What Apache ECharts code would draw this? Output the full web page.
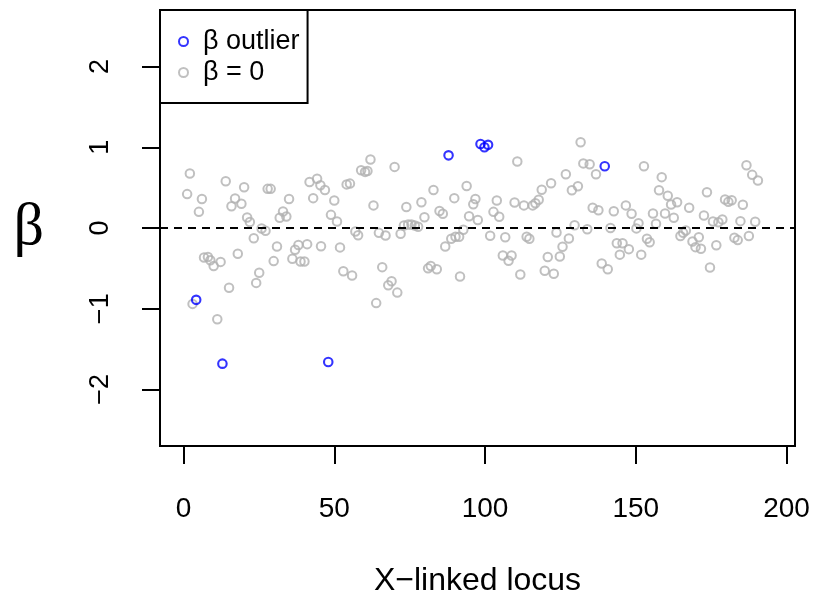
<!DOCTYPE html>
<html>
<head>
<meta charset="utf-8">
<script src="https://cdn.jsdelivr.net/npm/echarts@6/dist/echarts.min.js"></script>
<style>
  html, body { margin: 0; padding: 0; background: #fff; }
  #chart { width: 816px; height: 599px; }
</style>
</head>
<body>
<div id="chart"></div>
<script>
// Loci with no effect (beta = 0): position along the X chromosome and estimated beta
const nullLoci = [
  1.2, 2.1, 3.0, 5.1, 6.1, 6.8, 8.1, 8.9, 10.0, 11.2, 12.3, 14.0, 15.1, 15.9, 17.1, 18.0, 19.2, 20.1, 21.1, 22.0,
  23.3, 24.1, 25.1, 25.9, 27.2, 27.9, 28.9, 29.9, 31.0, 31.9, 33.0, 34.1, 35.0, 36.1, 37.0, 38.1, 38.8, 40.1, 41.0, 41.8,
  43.0, 44.3, 45.4, 45.6, 46.9, 48.9, 50.0, 50.9, 51.9, 53.0, 54.1, 55.2, 55.9, 57.0, 57.9, 58.9, 60.2, 61.0, 62.0, 63.0,
  63.9, 64.8, 65.9, 67.0, 67.9, 69.0, 70.0, 70.9, 72.0, 73.1, 73.9, 74.5, 75.6, 76.7, 77.8, 78.9, 79.9, 81.1, 82.0, 82.9,
  84.0, 84.9, 86.0, 86.8, 88.8, 89.8, 90.2, 91.4, 91.7, 92.8, 93.9, 94.7, 96.1, 96.8, 97.6, 101.7, 102.8, 103.9, 104.7, 105.9,
  106.7, 107.8, 108.8, 109.8, 110.7, 111.7, 112.9, 113.8, 114.7, 115.8, 116.7, 117.8, 118.8, 119.8, 120.8, 121.9, 122.8, 123.7, 124.8, 125.7,
  126.8, 127.8, 128.8, 129.7, 130.8, 131.7, 132.6, 133.9, 134.7, 135.7, 136.8, 137.6, 138.7, 140.7, 141.6, 142.7, 143.7, 144.7, 145.6, 146.7,
  147.7, 148.6, 150.2, 150.9, 151.8, 152.7, 153.7, 154.6, 155.7, 156.7, 157.7, 158.6, 159.7, 160.6, 161.7, 162.6, 163.7, 164.8, 165.7, 166.6,
  167.7, 168.8, 169.8, 170.9, 171.6, 172.6, 173.6, 174.6, 175.6, 176.7, 177.4, 178.7, 179.6, 180.7, 181.8, 182.7, 183.8, 184.7, 185.5, 186.7,
  187.5, 188.6, 189.6, 190.5
];
const nullBeta = [
  0.42, 0.675, -0.94, 0.20, 0.36, -0.365, -0.36, -0.40, -0.47, -1.13, -0.42, 0.58, -0.74, 0.27, 0.365, -0.32, 0.30, 0.505, 0.13, 0.075,
  -0.126, -0.68, -0.555, -0.006, -0.035, 0.485, 0.485, -0.41, -0.23, 0.126, 0.204, 0.142, 0.36, -0.38, -0.27, -0.21, -0.415, -0.415, -0.20, 0.57,
  0.37, 0.61, 0.53, -0.225, 0.47, 0.163, 0.34, 0.08, -0.24, -0.535, 0.54, 0.55, -0.588, -0.043, -0.089, 0.715, 0.695, 0.707, 0.848, 0.28,
  -0.93, -0.06, -0.485, -0.093, -0.71, -0.66, 0.757, -0.80, -0.072, 0.03, 0.26, 0.043, 0.043, 0.03, 0.015, 0.32, 0.134, -0.50, -0.47, 0.47,
  -0.51, 0.21, 0.176, -0.23, -0.134, 0.37, -0.109, -0.109, -0.60, -0.022, 0.52, 0.146, 0.295, 0.36, 0.10, -0.097, 0.20, 0.34, 0.139, -0.34,
  -0.114, -0.406, -0.34, 0.316, 0.823, -0.575, 0.28, -0.109, -0.134, 0.28, 0.307, 0.35, 0.473, -0.53, -0.36, 0.555, -0.567, -0.056, -0.353, -0.233,
  0.666, -0.13, 0.468, 0.035, 0.517, 1.062, 0.80, -0.015, 0.79, 0.25, 0.666, 0.22, -0.44, -0.51, 0.0, 0.208, -0.188, -0.33, -0.188, 0.28,
  -0.262, 0.176, -0.005, 0.06, -0.33, 0.765, -0.134, -0.176, 0.18, 0.052, 0.468, 0.63, 0.18, 0.40, 0.29, 0.126, 0.32, -0.10, -0.06, -0.03,
  0.25, -0.167, -0.237, -0.114, -0.257, 0.155, 0.443, -0.49, 0.08, -0.213, 0.072, 0.105, 0.353, 0.324, 0.344, -0.12, -0.15, 0.085, 0.287, 0.777,
  -0.10, 0.658, 0.077, 0.588
];

// Outlier loci
const outlierLoci = [4.2, 12.9, 48.0, 87.9, 98.5, 99.8, 101.0, 139.7];
const outlierBeta = [-0.89, -1.68, -1.66, 0.90, 1.04, 1.00, 1.03, 0.765];

// Axis ticks
const xTicks = [0, 50, 100, 150, 200];
const yTicks = [-2, -1, 0, 1, 2];

const seriesNames = ['\u03B2 outlier', '\u03B2 = 0'];
const xTitle = 'X\u2212linked locus';
const yTitle = '\u03B2';

const GREY = '#b0b0b0';
const BLUE = '#0000ff';
const FONT = 'Liberation Sans, Arial, Helvetica, sans-serif';

const zip = (xs, ys) => xs.map((x, i) => [x, ys[i]]);
const minusFmt = v => (v < 0 ? '\u2212' + Math.abs(v) : String(v));

const chart = echarts.init(document.getElementById('chart'), null, { renderer: 'canvas' });

chart.setOption({
  animation: false,
  backgroundColor: '#ffffff',
  textStyle: { fontFamily: FONT },
  grid: {
    left: 160, top: 10, right: 21, bottom: 153,
    show: true, borderColor: '#000', borderWidth: 2,
    backgroundColor: 'transparent',
    containLabel: false,
    outerBoundsMode: 'none'
  },
  legend: {
    orient: 'vertical',
    left: 160, top: 10,
    padding: [16, 8, 15, 18],
    itemGap: 0,
    itemWidth: 29, itemHeight: 9,
    borderColor: '#000', borderWidth: 2, borderRadius: 0,
    backgroundColor: '#fff',
    textStyle: { fontSize: 27, fontFamily: FONT, color: '#000', lineHeight: 31 },
    data: [
      { name: seriesNames[0], icon: 'circle',
        itemStyle: { color: 'rgba(0,0,0,0)', borderColor: BLUE, borderWidth: 2 } },
      { name: seriesNames[1], icon: 'circle',
        itemStyle: { color: 'rgba(0,0,0,0)', borderColor: GREY, borderWidth: 2 } }
    ]
  },
  xAxis: {
    type: 'value',
    min: -7.8, max: 202.8,
    name: xTitle,
    nameLocation: 'middle',
    nameGap: 119,
    nameTextStyle: { fontSize: 32, color: '#000', fontFamily: FONT },
    axisLine: { show: false, onZero: false },
    splitLine: { show: false },
    axisTick: {
      show: true, inside: false, length: 18,
      customValues: xTicks,
      lineStyle: { color: '#000', width: 2 }
    },
    axisLabel: {
      show: true, margin: 49,
      customValues: xTicks,
      fontSize: 28, color: '#000', fontFamily: FONT,
      formatter: minusFmt
    }
  },
  yAxis: {
    type: 'value',
    min: -2.7, max: 2.7,
    name: yTitle,
    nameLocation: 'middle',
    nameRotate: 0,
    nameGap: 116,
    nameTextStyle: { fontSize: 60, color: '#000', fontFamily: 'Liberation Serif, DejaVu Serif, serif',
                     padding: [8, 0, 0, 0] },
    axisLine: { show: false, onZero: false },
    splitLine: { show: false },
    axisTick: {
      show: true, inside: false, length: 18,
      customValues: yTicks,
      lineStyle: { color: '#000', width: 2 }
    },
    axisLabel: {
      show: true, margin: 46, rotate: 90,
      customValues: yTicks,
      fontSize: 27, color: '#000', fontFamily: FONT,
      formatter: minusFmt
    }
  },
  series: [
    {
      name: seriesNames[1],
      type: 'scatter',
      symbol: 'circle',
      symbolSize: 8.5,
      z: 2,
      itemStyle: { color: 'rgba(0,0,0,0)', borderColor: GREY, borderWidth: 2 },
      data: zip(nullLoci, nullBeta),
      markLine: {
        silent: true,
        symbol: 'none',
        label: { show: false },
        lineStyle: { color: '#000', type: [8, 6], width: 2 },
        data: [{ yAxis: 0 }]
      }
    },
    {
      name: seriesNames[0],
      type: 'scatter',
      symbol: 'circle',
      symbolSize: 8.5,
      z: 3,
      itemStyle: { color: 'rgba(0,0,0,0)', borderColor: BLUE, borderWidth: 2.1 },
      data: zip(outlierLoci, outlierBeta)
    }
  ]
});
</script>
</body>
</html>
